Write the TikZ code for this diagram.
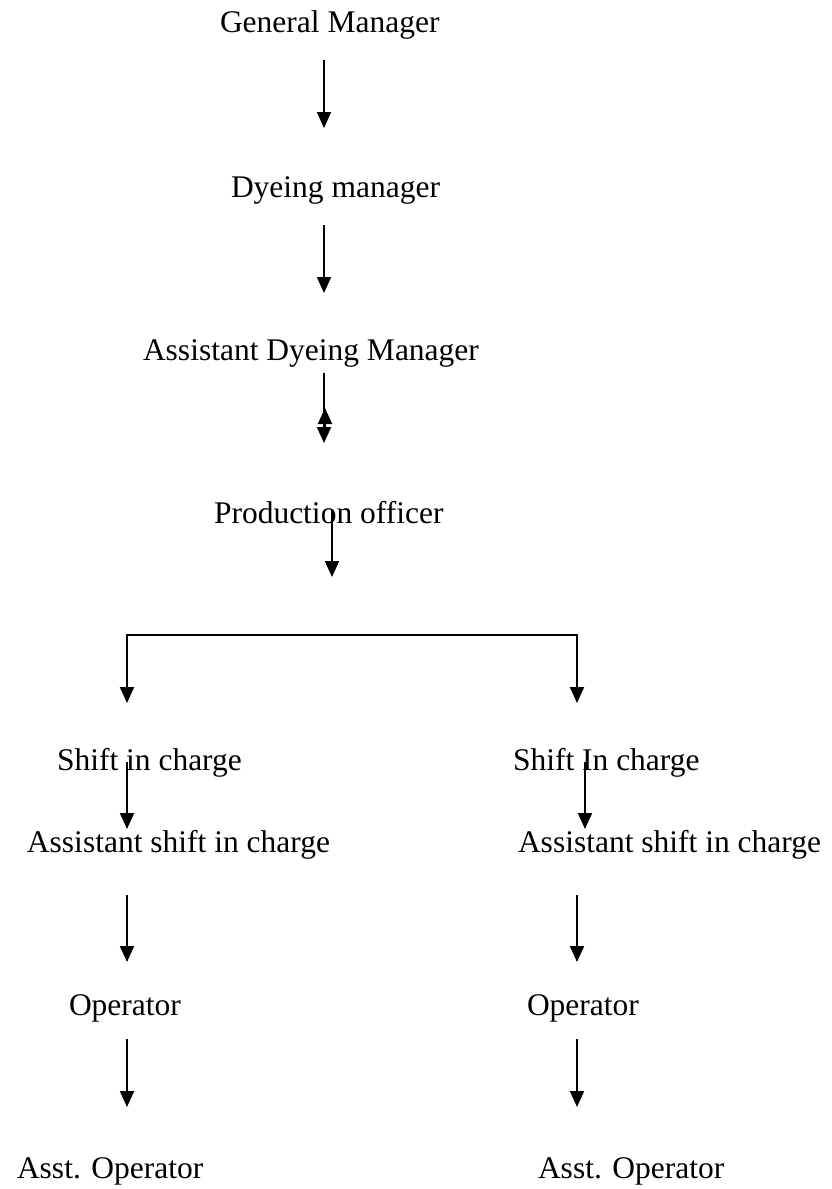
\documentclass[tikz,border=0pt]{standalone}
\usepackage{fontspec}
\setmainfont{Liberation Serif}
\usetikzlibrary{arrows.meta}
\tikzset{
  lbl/.style={anchor=base west, inner sep=0pt, outer sep=0pt,
              font=\fontsize{31.5}{38}\selectfont},
  arr/.style={line width=2pt, -{Triangle[width=14pt,length=16pt]}},
}
\begin{document}
\begin{tikzpicture}[x=1pt,y=-1pt]
\useasboundingbox (0,0) rectangle (832,1189);

% titles of the chain
\node[lbl] (gm)   at (220,32)  {General Manager};
\node[lbl] (dm)   at (231,197) {Dyeing manager};
\node[lbl] (adm)  at (143,360) {Assistant Dyeing Manager};
\node[lbl] (po)   at (214,523) {Production officer};

% left branch
\node[lbl] (sl)   at (57,770)   {Shift in charge};
\node[lbl] (asl)  at (27,852)   {Assistant shift in charge};
\node[lbl] (opl)  at (69,1015)  {Operator};
\node[lbl] (aol)  at (17,1178)  {Asst. Operator};

% right branch
\node[lbl] (sr)   at (513,770)  {Shift In charge};
\node[lbl] (asr)  at (518,852)  {Assistant shift in charge};
\node[lbl] (opr)  at (527,1015) {Operator};
\node[lbl] (aor)  at (538,1178) {Asst. Operator};

% arrow end points
\coordinate (a1s) at (324,60);  \coordinate (a1e) at (324,128);
\coordinate (a2s) at (324,225); \coordinate (a2e) at (324,293);
\coordinate (a3s) at (324,373); \coordinate (a3e) at (324,443);
\coordinate (a3us) at (325,427); \coordinate (a3ue) at (325,408);
\coordinate (a4s) at (332,510); \coordinate (a4e) at (332,577);
\coordinate (bm)  at (352,635);
\coordinate (bl)  at (127,703); \coordinate (br)  at (577,703);

\coordinate (l1s) at (127,762); \coordinate (l1e) at (127,829);
\coordinate (r1s) at (585,762); \coordinate (r1e) at (585,829);
\coordinate (l2s) at (127,895); \coordinate (l2e) at (127,962);
\coordinate (r2s) at (577,895); \coordinate (r2e) at (577,962);
\coordinate (l3s) at (127,1039); \coordinate (l3e) at (127,1107);
\coordinate (r3s) at (577,1039); \coordinate (r3e) at (577,1107);

\draw[arr] (a1s) -- (a1e);
\draw[arr] (a2s) -- (a2e);
\draw[arr] (a3s) -- (a3e);
\draw[arr] (a3us) -- (a3ue);
\draw[arr] (a4s) -- (a4e);
\draw[arr] (bm) -| (bl);
\draw[arr] (bm) -| (br);

\draw[arr] (l1s) -- (l1e);
\draw[arr] (r1s) -- (r1e);
\draw[arr] (l2s) -- (l2e);
\draw[arr] (r2s) -- (r2e);
\draw[arr] (l3s) -- (l3e);
\draw[arr] (r3s) -- (r3e);
\end{tikzpicture}
\end{document}
